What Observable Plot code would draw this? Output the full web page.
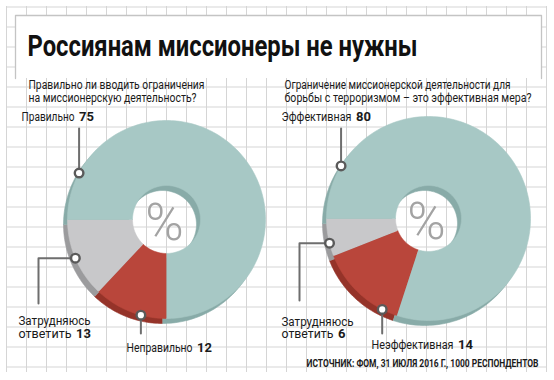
<!DOCTYPE html>
<html><head><meta charset="utf-8">
<script src="https://cdn.jsdelivr.net/npm/d3@7"></script>
<script src="https://cdn.jsdelivr.net/npm/@observablehq/plot@0.6"></script>
<style>
html,body{margin:0;padding:0;background:#fff;}
#chart{width:554px;height:380px;overflow:hidden;}
</style></head><body><div id="chart"></div>
<script>
// ---------- DATA ----------
const title = "Россиянам миссионеры не нужны";
const leftQuestion = ["Правильно ли вводить ограничения", "на миссионерскую деятельность?"];
const rightQuestion = ["Ограничение миссионерской деятельности для", "борьбы с терроризмом – это эффективная мера?"];
const leftCategories = ["Правильно", "Неправильно", "Затрудняюсь ответить"];
const leftValues = [75, 12, 13];
const rightCategories = ["Эффективная", "Неэффективная", "Затрудняюсь ответить"];
const rightValues = [80, 14, 6];
const centerSymbol = "%";
const source = "ИСТОЧНИК: ФОМ, 31 ИЮЛЯ 2016 Г., 1000 РЕСПОНДЕНТОВ";

// ---------- LAYOUT / STYLE ----------
const W = 554, H = 380;
const FONT = "Roboto";
const faceColors = ["#a7c8c5", "#b9463b", "#c8c8ca"];
const rimColors  = ["#88aba8", "#953329", "#9b9b9d"];
const sliceOrder = [2, 1, 0];          // counter-clockwise from 9 o'clock
const rimShift = {dx: -4, dy: 5};

const donuts = [
  {cats: leftCategories, vals: leftValues, cx: 166, cy: 219, r: 99, hole: 34,
   callouts: [
     {angle: -152, leader: [["y", 128]], lines: [[21, 120]], widths: [53]},
     {angle: 105,  leader: [["y", 333]], lines: [[126, 351]], widths: [66]},
     {angle: 157,  leader: [["x", 38], ["y", 303]], lines: [[18, 324], [18, 337]], widths: [72, 53]}
   ]},
  {cats: rightCategories, vals: rightValues, cx: 428, cy: 218, r: 102, hole: 33,
   callouts: [
     {angle: -149, leader: [["y", 128]], lines: [[281, 120]], widths: [70]},
     {angle: 117,  leader: [["y", 333]], lines: [[371, 348]], widths: [82]},
     {angle: 166,  leader: [["x", 299], ["y", 300]], lines: [[281, 325], [281, 337]], widths: [72, 52]}
   ]}
];

const rad = a => a * Math.PI / 180;

function slicePolys(d, dx, dy) {
  const total = d3.sum(d.vals);
  let a = 180;
  return sliceOrder.map(i => {
    const span = d.vals[i] / total * 360;
    const a0 = a, a1 = a - span; a = a1;
    const n = Math.max(3, Math.ceil(span / 1.5));
    const pts = [];
    for (let k = 0; k <= n; k++) {
      const t = rad(a0 + (a1 - a0) * k / n);
      pts.push({x: d.cx + dx + d.r * Math.cos(t), y: d.cy + dy + d.r * Math.sin(t)});
    }
    for (let k = n; k >= 0; k--) {
      const t = rad(a0 + (a1 - a0) * k / n);
      pts.push({x: d.cx + dx + d.hole * Math.cos(t), y: d.cy + dy + d.hole * Math.sin(t)});
    }
    return {i, pts};
  });
}

const marks = [];
// grid
const gridX = d3.range(6, 547, 20);
const gridY = d3.range(6.5, 372, 20);
marks.push(Plot.ruleX(gridX, {x: d => d, y1: () => 6, y2: () => 372, stroke: "#d5d5d5", strokeWidth: 1}));
marks.push(Plot.ruleY(gridY, {y: d => d, x1: () => 6, x2: () => 546, stroke: "#d5d5d5", strokeWidth: 1}));
// title box
marks.push(Plot.rect([{x1: 15, x2: 541, y1: 15, y2: 78}], {x1: "x1", x2: "x2", y1: "y1", y2: "y2", fill: "white"}));
marks.push(Plot.line([{x: 15, y: 78}, {x: 15, y: 15}, {x: 541, y: 15}, {x: 541, y: 78}], {x: "x", y: "y", stroke: "#c4c4c4", strokeWidth: 1.3}));

// donuts
const leaders = [], dots = [], names = [], numbers = [];
donuts.forEach((d, di) => {
  for (const s of slicePolys(d, rimShift.dx, rimShift.dy))
    marks.push(Plot.line(s.pts, {x: "x", y: "y", fill: rimColors[s.i], stroke: rimColors[s.i], strokeWidth: 0.6}));
  for (const s of slicePolys(d, 0, 0))
    marks.push(Plot.line(s.pts, {x: "x", y: "y", fill: faceColors[s.i], stroke: faceColors[s.i], strokeWidth: 0.6}));
  d.callouts.forEach((c, ci) => {
    const px = d.cx + d.r * Math.cos(rad(c.angle));
    const py = d.cy + d.r * Math.sin(rad(c.angle));
    const key = di + "-" + ci;
    let cur = {x: px, y: py};
    leaders.push({key, ...cur});
    for (const [axis, v] of c.leader) {
      cur = axis === "y" ? {x: cur.x, y: v} : {x: v, y: cur.y};
      leaders.push({key, ...cur});
    }
    dots.push({x: px, y: py});
    const parts = c.lines.length > 1 ? d.cats[ci].split(" ") : [d.cats[ci]];
    parts.forEach((p, li) => {
      names.push({x: c.lines[li][0], y: c.lines[li][1], text: p, w: c.widths[li]});
    });
    const last = c.lines.length - 1;
    numbers.push({x: c.lines[last][0] + c.widths[last] + 4.5, y: c.lines[last][1], text: String(d.vals[ci])});
  });
});

marks.push(Plot.text(donuts, {x: d => d.cx - 2, y: d => d.cy + 4, text: () => centerSymbol, fontSize: 52, fontWeight: 300, fill: "#a3a3a3", fontFamily: FONT}));
marks.push(Plot.line(leaders, {x: "x", y: "y", z: "key", stroke: "#6e6e6e", strokeWidth: 2}));
marks.push(Plot.dot(dots, {x: "x", y: "y", r: 4.3, fill: "white", stroke: "#5a5a5a", strokeWidth: 2.4}));
marks.push(Plot.text(names, {x: "x", y: "y", text: "text", textAnchor: "start", lineAnchor: "bottom", fontSize: 12.5, fill: "#1a1a1a", fontFamily: FONT, ariaDescription: "names"}));
marks.push(Plot.text(numbers, {x: "x", y: "y", text: "text", textAnchor: "start", lineAnchor: "bottom", fontSize: 13, fontWeight: "bold", fill: "#1a1a1a", fontFamily: FONT}));

// titles
marks.push(Plot.text([title], {x: () => 27, y: () => 55, text: d => d, textAnchor: "start", lineAnchor: "bottom", fontSize: 30, fontWeight: "bold", fill: "#111", fontFamily: FONT, ariaDescription: "title"}));
marks.push(Plot.text(leftQuestion, {x: () => 28, y: (d, i) => 88 + i * 13.5, text: d => d, textAnchor: "start", lineAnchor: "bottom", fontSize: 12, fill: "#1a1a1a", fontFamily: FONT, ariaDescription: "qleft"}));
marks.push(Plot.text(rightQuestion, {x: () => 284, y: (d, i) => 88 + i * 13.5, text: d => d, textAnchor: "start", lineAnchor: "bottom", fontSize: 12, fill: "#1a1a1a", fontFamily: FONT, ariaDescription: "qright"}));
marks.push(Plot.text([source], {x: () => 306, y: () => 366, text: d => d, textAnchor: "start", lineAnchor: "bottom", fontSize: 11, fontWeight: "bold", fill: "#1a1a1a", fontFamily: FONT, ariaDescription: "source"}));

const svg = Plot.plot({
  width: W, height: H, margin: 0,
  x: {domain: [0, W], range: [0, W], axis: null},
  y: {domain: [0, H], range: [0, H], axis: null},
  style: {background: "white", fontFamily: FONT},
  marks
});
document.getElementById("chart").appendChild(svg);

function fit(label, widths) {
  svg.querySelectorAll(`g[aria-description="${label}"] text`).forEach((el, i) => {
    if (widths[i] == null) return;
    el.setAttribute("textLength", widths[i]);
    el.setAttribute("lengthAdjust", "spacingAndGlyphs");
  });
}
fit("title", [390]);
fit("qleft", [176, 168]);
fit("qright", [226, 247]);
fit("source", [232]);
fit("names", names.map(n => n.w));
</script></body></html>
